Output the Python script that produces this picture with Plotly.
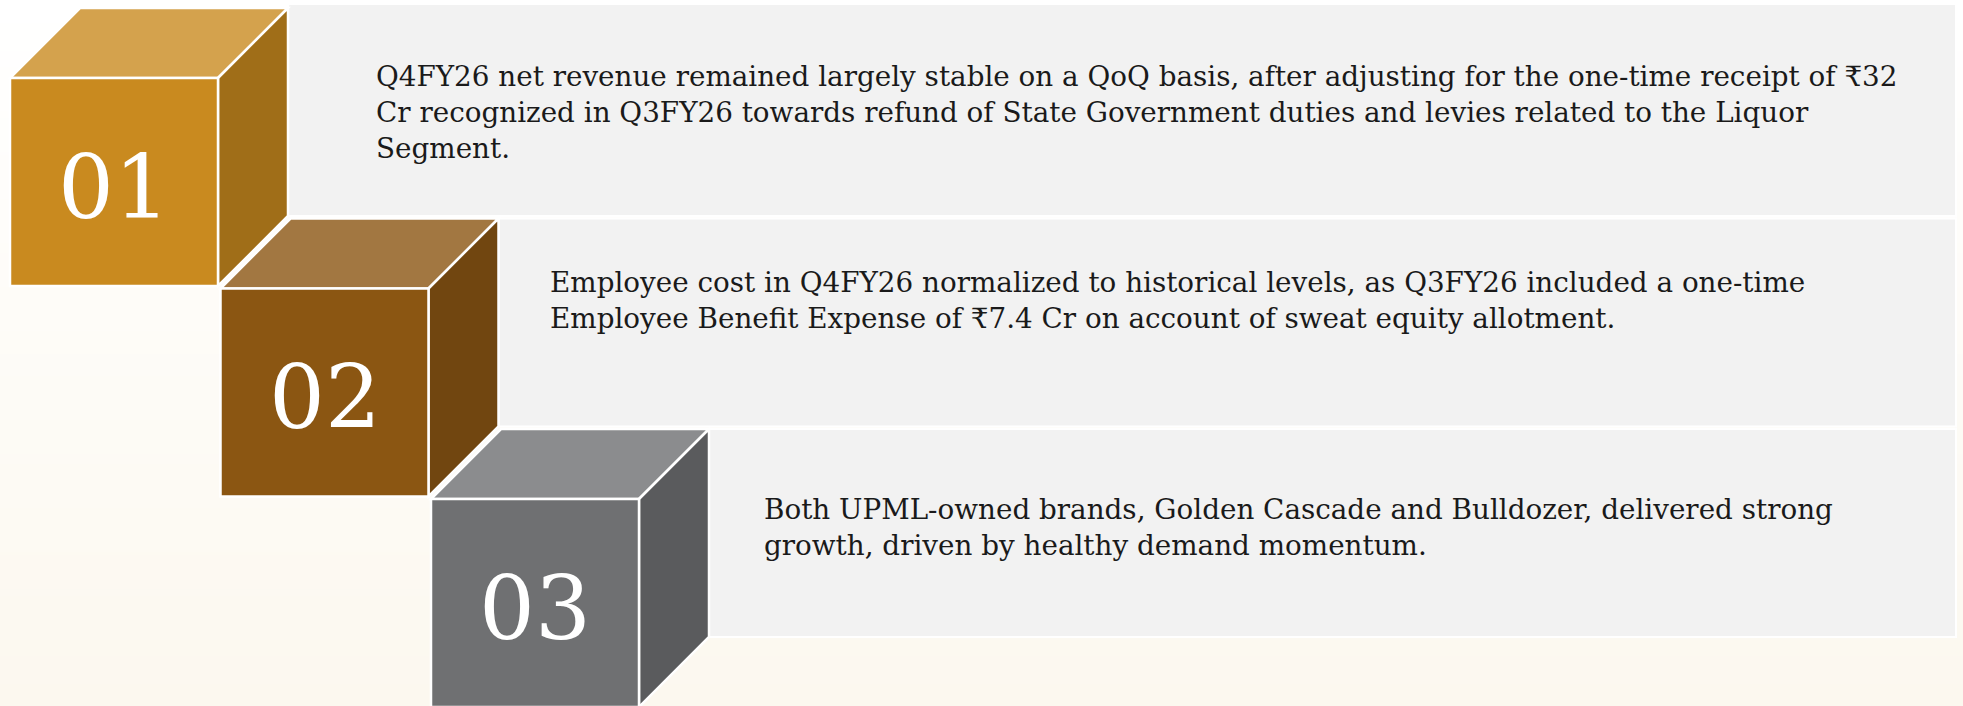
"""Three-step highlight cubes with commentary panels."""

import plotly.graph_objects as go

W, H = 1963, 706

# ── Content ───────────────────────────────────────────────────────────────────
LABELS = ['01', '02', '03']
TEXT_LINES = [
    ['Q4FY26 net revenue remained largely stable on a QoQ basis, after adjusting for the one-time receipt of ₹32',
     'Cr recognized in Q3FY26 towards refund of State Government duties and levies related to the Liquor',
     'Segment.'],
    ['Employee cost in Q4FY26 normalized to historical levels, as Q3FY26 included a one-time',
     'Employee Benefit Expense of ₹7.4 Cr on account of sweat equity allotment.'],
    ['Both UPML-owned brands, Golden Cascade and Bulldozer, delivered strong',
     'growth, driven by healthy demand momentum.'],
]
FRONT_COLORS = ['#C98A1F', '#8B5612', '#6F7072']
TOP_COLORS   = ['#D4A24D', '#A27741', '#8B8C8E']
SIDE_COLORS  = ['#A06E18', '#714610', '#5A5B5D']

# ── Layout geometry (pixels, y grows downward) ────────────────────────────────
X0, Y0   = 10, 78        # front face of the first cube
STEP     = 210.5         # diagonal step between cubes
FS       = 208           # front face size
D        = 70            # depth offset of the top / side faces
PANEL_R  = 1956
TEXT_X   = [374, 548, 762]
TEXT_Y   = [112, 300, 527]
SERIF    = 'DejaVu Serif, Liberation Serif, serif'

fig = go.Figure()

# soft white -> cream background
fig.add_trace(go.Heatmap(
    z=[[0, 0], [1, 1]], x=[0, W], y=[0, H], zsmooth='best',
    colorscale=[[0, '#FFFFFF'], [1, '#FCF8EF']], showscale=False, hoverinfo='skip',
))

shapes, annotations = [], []

# commentary panels first, so the cubes sit on top of them
for i in range(len(LABELS)):
    top = Y0 + i * STEP - D
    shapes.append(dict(
        type='rect', x0=X0 + i * STEP + FS + D, x1=PANEL_R,
        y0=top - (4 if i == 0 else 0), y1=top + FS,
        fillcolor='#F2F2F2', line=dict(color='#FFFFFF', width=2),
    ))

for i, label in enumerate(LABELS):
    fx0 = X0 + i * STEP
    fy0 = Y0 + i * STEP
    fx1, fy1 = fx0 + FS, fy0 + FS
    edge = dict(color='#FFFFFF', width=2.5)

    shapes.append(dict(type='path', fillcolor=TOP_COLORS[i], line=edge,
                       path=f'M {fx0} {fy0} L {fx0 + D} {fy0 - D} L {fx1 + D} {fy0 - D} L {fx1} {fy0} Z'))
    shapes.append(dict(type='path', fillcolor=SIDE_COLORS[i], line=edge,
                       path=f'M {fx1} {fy0} L {fx1 + D} {fy0 - D} L {fx1 + D} {fy1 - D} L {fx1} {fy1} Z'))
    shapes.append(dict(type='rect', x0=fx0, x1=fx1, y0=fy0, y1=fy1,
                       fillcolor=FRONT_COLORS[i], line=edge))

    annotations.append(dict(
        x=(fx0 + fx1) / 2, y=(fy0 + fy1) / 2 + 5, text=label, showarrow=False,
        xanchor='center', yanchor='middle',
        font=dict(family=SERIF, size=88, color='#FFFFFF'),
    ))
    annotations.append(dict(
        x=TEXT_X[i], y=TEXT_Y[i], text='<br>'.join(TEXT_LINES[i]), showarrow=False,
        xanchor='left', yanchor='middle', align='left',
        font=dict(family=SERIF, size=27.8, color='#1A1A1A'),
    ))

fig.update_layout(
    width=W, height=H, margin=dict(l=0, r=0, t=0, b=0),
    paper_bgcolor='#FFFFFF', plot_bgcolor='#FFFFFF',
    xaxis=dict(range=[0, W], visible=False, fixedrange=True),
    yaxis=dict(range=[H, 0], visible=False, fixedrange=True),
    shapes=shapes, annotations=annotations, showlegend=False,
)

fig.write_html('out.html', config={'displayModeBar': False},
               post_script="document.body.style.margin='0';document.body.style.overflow='hidden';")
